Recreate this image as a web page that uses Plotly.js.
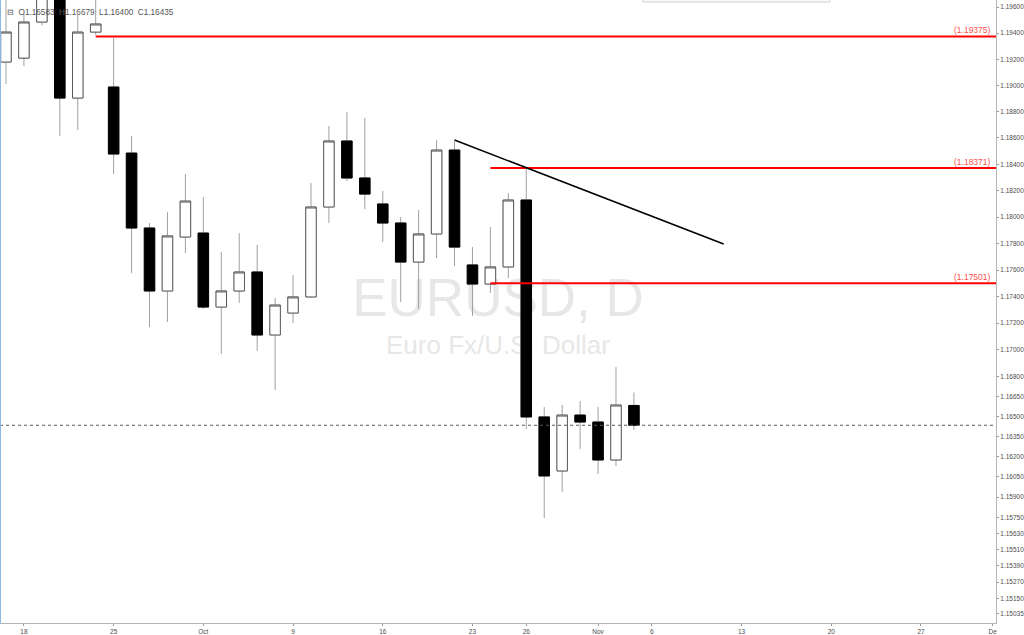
<!DOCTYPE html>
<html><head><meta charset="utf-8">
<script src="https://cdn.plot.ly/plotly-3.0.1.min.js"></script>
<style>html,body{margin:0;padding:0;background:#fff;overflow:hidden}#chart{width:1024px;height:635px}</style>
</head><body><div id="chart"></div>
<script>
// ---- data (EURUSD daily) ----
const dates = ['2017-09-15','2017-09-18','2017-09-19','2017-09-20','2017-09-21','2017-09-22',
  '2017-09-25','2017-09-26','2017-09-27','2017-09-28','2017-09-29',
  '2017-10-02','2017-10-03','2017-10-04','2017-10-05','2017-10-06',
  '2017-10-09','2017-10-10','2017-10-11','2017-10-12','2017-10-13',
  '2017-10-16','2017-10-17','2017-10-18','2017-10-19','2017-10-20',
  '2017-10-23','2017-10-24','2017-10-25','2017-10-26','2017-10-27',
  '2017-10-30','2017-10-31','2017-11-01','2017-11-02','2017-11-03'];
const openP  = [1.19179,1.19209,1.19485,1.19950,1.18904,1.19408,
  1.18988,1.18485,1.17917,1.17442,1.17849,
  1.17879,1.17321,1.17442,1.17585,1.17111,
  1.17276,1.17397,1.18076,1.18577,1.18296,
  1.18099,1.17955,1.17660,1.17872,1.18508,
  1.17638,1.17494,1.17623,1.18129,1.16497,
  1.16094,1.16511,1.16459,1.16176,1.16583];
const highP  = [1.19700,1.19550,1.20030,1.20340,1.19539,1.19800,
  1.19363,1.18615,1.17955,1.18038,1.18326,
  1.18152,1.17736,1.17879,1.17789,1.17389,
  1.17562,1.18258,1.18691,1.18797,1.18752,
  1.18197,1.18000,1.18053,1.18584,1.18577,
  1.17773,1.17925,1.18182,1.18371,1.16571,
  1.16586,1.16616,1.16571,1.16871,1.16679];
const lowP   = [1.19011,1.19148,1.19460,1.18615,1.18660,1.19385,
  1.18326,1.17577,1.17171,1.17209,1.17728,
  1.17306,1.16968,1.17351,1.16991,1.16699,
  1.17201,1.17389,1.17955,1.18273,1.18061,
  1.17811,1.17359,1.17306,1.17690,1.17630,
  1.17254,1.17427,1.17540,1.16407,1.15744,
  1.15938,1.16258,1.16071,1.16131,1.16400];
const closeP = [1.19408,1.19485,1.19950,1.18904,1.19408,1.19470,
  1.18478,1.17917,1.17442,1.17857,1.18121,
  1.17321,1.17442,1.17585,1.17111,1.17336,
  1.17397,1.18076,1.18577,1.18296,1.18174,
  1.17955,1.17660,1.17872,1.18508,1.17773,
  1.17494,1.17623,1.18129,1.16497,1.16057,
  1.16511,1.16459,1.16176,1.16586,1.16435];

// horizontal levels
const levelValues = [1.19375, 1.18371, 1.17501];
const levelStarts = ['2017-09-22', '2017-10-24', '2017-10-24'];
const levelLabels = ['(1.19375)', '(1.18371)', '(1.17501)'];
// trend line
const trendDates  = ['2017-10-20', '2017-11-10'];
const trendValues = [1.18584, 1.17796];

// axis ticks
const xTickDates  = ['2017-09-18','2017-09-25','2017-10-02','2017-10-09','2017-10-16','2017-10-23',
  '2017-10-26','2017-11-01','2017-11-06','2017-11-13','2017-11-20','2017-11-27','2017-12-01'];
const xTickLabels = ['18','25','Oct','9','16','23','26','Nov','6','13','20','27','De'];
const yTickValues = [1.196,1.194,1.192,1.190,1.188,1.186,1.184,1.182,1.180,1.178,1.176,1.174,1.172,1.170,
  1.168,1.1665,1.165,1.1635,1.162,1.1605,1.159,1.1575,1.1563,1.1551,1.1539,1.1527,1.1515,1.15035];
const yTickLabels = ['1.19600','1.19400','1.19200','1.19000','1.18800','1.18600','1.18400','1.18200',
  '1.18000','1.17800','1.17600','1.17400','1.17200','1.17000','1.16800','1.16650','1.16500','1.16350',
  '1.16200','1.16050','1.15900','1.15750','1.15630','1.15510','1.15390','1.15270','1.15150','1.15035'];

const symbolTitle = 'EURUSD, D';
const symbolName  = 'Euro Fx/U.S. Dollar';

// ---- build ----
const xRange = ['2017-09-14 16:00', '2017-12-01 04:20'];
const yRange = [Math.log10(1.149677), Math.log10(1.19654)];
const n = dates.length;
const bodyHigh = openP.map((o, i) => Math.max(o, closeP[i]));
const bodyLow  = openP.map((o, i) => Math.min(o, closeP[i]));
const FONT = 'Liberation Sans, Arial, sans-serif';

const traces = [];
// wicks
traces.push({
  type: 'candlestick', x: dates, open: openP, high: highP, low: lowP, close: closeP,
  increasing: {line: {color: '#a0a0a0', width: 1}, fillcolor: 'rgba(0,0,0,0)'},
  decreasing: {line: {color: '#a0a0a0', width: 1}, fillcolor: 'rgba(0,0,0,0)'},
  whiskerwidth: 0, showlegend: false, hoverinfo: 'skip'
});
// bodies
traces.push({
  type: 'candlestick', x: dates, open: openP, high: bodyHigh, low: bodyLow, close: closeP,
  increasing: {line: {color: '#5a5a5a', width: 1}, fillcolor: '#ffffff'},
  decreasing: {line: {color: '#000000', width: 1}, fillcolor: '#000000'},
  whiskerwidth: 0, showlegend: false, hoverinfo: 'skip'
});
// last price dotted line
traces.push({
  type: 'scatter', mode: 'lines', x: xRange, y: [closeP[n-1], closeP[n-1]],
  line: {color: '#555555', width: 1, dash: 'dot'}, showlegend: false, hoverinfo: 'skip'
});
// red levels
levelValues.forEach((v, i) => {
  traces.push({
    type: 'scatter', mode: 'lines', x: [levelStarts[i], xRange[1]], y: [v, v],
    line: {color: '#ff0000', width: 2}, showlegend: false, hoverinfo: 'skip'
  });
});
// trend line
traces.push({
  type: 'scatter', mode: 'lines', x: trendDates, y: trendValues,
  line: {color: '#000000', width: 1.6}, showlegend: false, hoverinfo: 'skip'
});

const nb = '\u00a0';
const headerText = '\u229f' + nb + nb + 'O' + openP[n-1].toFixed(5) + nb+nb + 'H' + highP[n-1].toFixed(5) +
  nb+nb + 'L' + lowP[n-1].toFixed(5) + nb+nb + 'C' + closeP[n-1].toFixed(5);

const shapes = [
  {type: 'rect', xref: 'paper', yref: 'paper', x0: 0.2, x1: 0.8, y0: 0.48, y1: 0.58, layer: 'below',
   line: {width: 0}, fillcolor: 'rgba(0,0,0,0)',
   label: {text: symbolTitle, textposition: 'middle center', padding: 0,
           font: {family: FONT, size: 53, color: '#e7e7e7'}}},
  {type: 'rect', xref: 'paper', yref: 'paper', x0: 0.2, x1: 0.8, y0: 0.42, y1: 0.48, layer: 'below',
   line: {width: 0}, fillcolor: 'rgba(0,0,0,0)',
   label: {text: symbolName, textposition: 'middle center', padding: 0,
           font: {family: FONT, size: 26, color: '#e7e7e7'}}},
  {type: 'rect', xref: 'paper', yref: 'paper', x0: 0.004, x1: 0.3, y0: 0.972, y1: 0.993, layer: 'above',
   line: {width: 0}, fillcolor: 'rgba(0,0,0,0)',
   label: {text: headerText, textposition: 'middle left', padding: 0,
           font: {family: FONT, size: 8.2, color: '#555555'}}},
  {type: 'rect', xref: 'paper', yref: 'paper', x0: 0.6456, x1: 0.8333, y0: 0.9968, y1: 1.02,
   line: {width: 1, color: '#cfcfcf'}, fillcolor: '#fbfbfb', layer: 'above'},
  {type: 'line', xref: 'paper', yref: 'paper', x0: 0.0005, x1: 0.0005, y0: 0, y1: 1,
   line: {width: 1, color: '#8db8e4'}, layer: 'above'}
];

const annotations = levelValues.map((v, i) => ({
  xref: 'paper', yref: 'y', x: 992/996, y: Math.log10(v), xanchor: 'right', yanchor: 'bottom',
  text: levelLabels[i], showarrow: false, borderpad: 0, yshift: 0,
  font: {family: FONT, size: 8.5, color: '#ff5050'}
}));

const layout = {
  width: 1024, height: 635,
  margin: {l: 0, r: 28, t: 0, b: 12, pad: 0},
  paper_bgcolor: '#ffffff', plot_bgcolor: '#ffffff',
  showlegend: false, hovermode: false,
  boxgap: 0.235, boxgroupgap: 0.235,
  xaxis: {
    type: 'date', range: xRange, rangebreaks: [{bounds: ['sat', 'mon']}],
    rangeslider: {visible: false},
    tickmode: 'array', tickvals: xTickDates, ticktext: xTickLabels,
    ticks: 'outside', ticklen: 2, tickwidth: 1, tickcolor: '#999999',
    tickfont: {family: FONT, size: 6.5, color: '#4d4d4d'},
    showgrid: false, zeroline: false, showline: true, linecolor: '#b5b5b5', linewidth: 1,
    fixedrange: true
  },
  yaxis: {
    type: 'log', side: 'right', range: yRange,
    tickmode: 'array', tickvals: yTickValues, ticktext: yTickLabels,
    ticks: 'outside', ticklen: 2, tickwidth: 1, tickcolor: '#999999',
    tickfont: {family: FONT, size: 6.5, color: '#4d4d4d'},
    showgrid: false, zeroline: false, showline: true, linecolor: '#b5b5b5', linewidth: 1,
    fixedrange: true
  },
  shapes: shapes,
  annotations: annotations
};

Plotly.newPlot('chart', traces, layout, {displayModeBar: false, staticPlot: true});
</script></body></html>
